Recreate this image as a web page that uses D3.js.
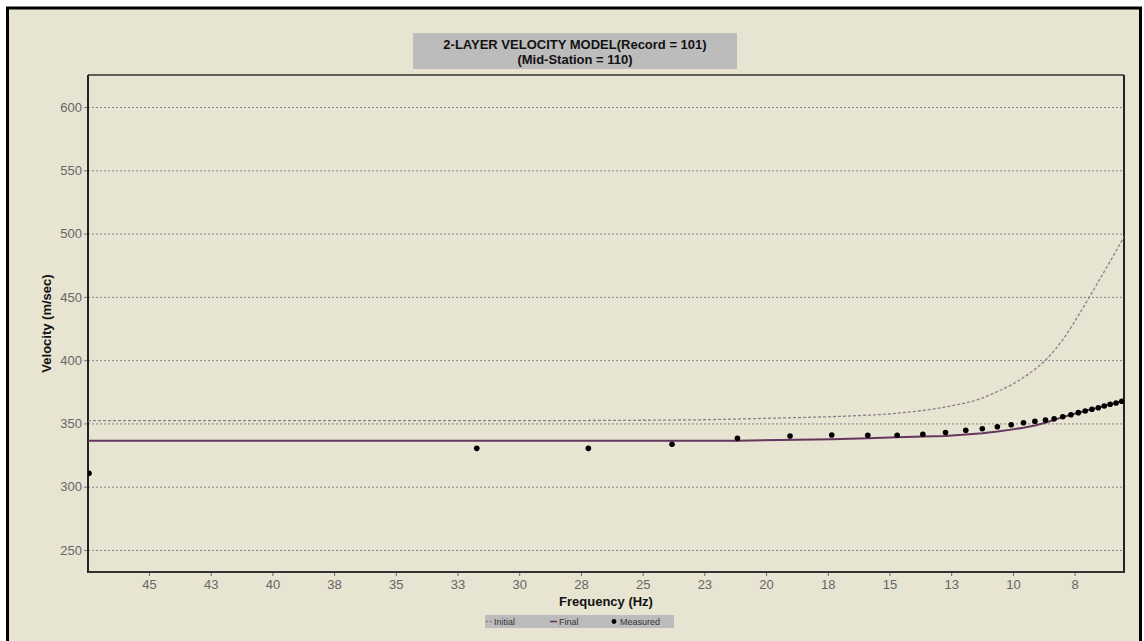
<!DOCTYPE html>
<html>
<head>
<meta charset="utf-8">
<script src="https://cdn.jsdelivr.net/npm/d3@7"></script>
<style>
  html, body { margin: 0; padding: 0; background: #ffffff; }
  svg { display: block; }
  text { font-family: "Liberation Sans", Arial, sans-serif; }
</style>
</head>
<body>
<svg id="chart" width="1144" height="641"></svg>
<script>
// ---------- data ----------
const titleLines = ["2-LAYER VELOCITY MODEL(Record = 101)", "(Mid-Station = 110)"];
const xLabel = "Frequency (Hz)";
const yLabel = "Velocity (m/sec)";

const xTickValues = [45, 42.5, 40, 37.5, 35, 32.5, 30, 27.5, 25, 22.5, 20, 17.5, 15, 12.5, 10, 7.5];
const xTickLabels = ["45", "43", "40", "38", "35", "33", "30", "28", "25", "23", "20", "18", "15", "13", "10", "8"];
const yTickValues = [250, 300, 350, 400, 450, 500, 550, 600];

const measuredFreq = [47.43, 31.72, 27.2, 23.81, 21.16, 19.03, 17.34, 15.88, 14.69, 13.65, 12.73, 11.91, 11.24, 10.63, 10.07, 9.57, 9.11, 8.68, 8.33, 7.98, 7.65, 7.35, 7.07, 6.80, 6.54, 6.30, 6.06, 5.82, 5.59];
const measuredVel  = [310.6, 330.3, 330.3, 333.5, 338.2, 340.1, 340.9, 340.6, 340.6, 341.4, 342.8, 344.6, 345.8, 347.4, 349.0, 350.5, 351.7, 352.7, 353.7, 355.3, 356.9, 358.5, 359.8, 361.2, 362.4, 363.8, 365.1, 366.1, 367.5];

const finalFreq = [47.47, 21.16, 17.34, 15.88, 14.69, 13.65, 12.73, 11.91, 11.24, 10.63, 10.07, 9.57, 9.11, 8.68, 8.33, 7.98, 7.65, 7.35, 7.07, 6.80, 6.54, 6.30, 6.06, 5.82, 5.5];
const finalVel  = [336.3, 336.3, 337.5, 338.3, 339.1, 339.6, 340.1, 341.2, 342.3, 343.6, 345.1, 346.6, 348.3, 350.5, 352.8, 355.0, 356.8, 358.4, 359.8, 361.2, 362.5, 363.8, 365.1, 366.2, 367.8];

const initialFreq = [47.47, 30.0, 23.48, 19.43, 16.73, 14.71, 12.68, 11.32, 10.65, 9.97, 9.30, 8.63, 7.95, 7.28, 6.60, 5.93, 5.5];
const initialVel  = [352.2, 352.2, 352.7, 354.3, 355.8, 358.0, 363.2, 369.5, 375.0, 381.5, 390.0, 401.0, 417.0, 437.5, 460.0, 482.5, 497.5];

const legendItems = ["Initial", "Final", "Measured"];

// ---------- layout ----------
const svg = d3.select("#chart");
const W = 1144, H = 641;
const plot = { left: 88, right: 1124, top: 75, bottom: 572 };

// outer frame
svg.append("rect").attr("x", 0).attr("y", 0).attr("width", W).attr("height", H).attr("fill", "#ffffff");
svg.append("rect").attr("x", 7.5).attr("y", 8).attr("width", 1133).attr("height", 700)
  .attr("fill", "#e7e4d2").attr("stroke", "#000").attr("stroke-width", 3);

const x = d3.scaleLinear().domain([47.47, 5.5]).range([plot.left, plot.right]);
const y = d3.scaleLinear().domain([232.6, 625.3]).range([plot.bottom, plot.top]);

// clip
svg.append("defs").append("clipPath").attr("id", "plotclip")
  .append("rect").attr("x", plot.left).attr("y", plot.top)
  .attr("width", plot.right - plot.left).attr("height", plot.bottom - plot.top);

// grid lines
const grid = svg.append("g").attr("transform", `translate(${plot.left},0)`)
  .call(d3.axisLeft(y).tickValues(yTickValues).tickSize(-(plot.right - plot.left)).tickFormat(""));
grid.select(".domain").remove();
grid.selectAll("line").attr("stroke", "#858585").attr("stroke-width", 1).attr("stroke-dasharray", "2,2");

// y axis ticks + labels
const yAx = svg.append("g").attr("transform", `translate(${plot.left},0)`)
  .call(d3.axisLeft(y).tickValues(yTickValues).tickSize(4).tickPadding(2));
yAx.select(".domain").remove();
yAx.selectAll("line").attr("stroke", "#777");
yAx.selectAll("text").attr("fill", "#666").attr("font-size", 13)
  .attr("font-family", "'Liberation Sans', Arial, sans-serif");

// x axis
const xAx = svg.append("g").attr("transform", `translate(0,${plot.bottom})`)
  .call(d3.axisBottom(x).tickValues(xTickValues)
    .tickFormat((d, i) => xTickLabels[i]).tickSize(4).tickPadding(4));
xAx.select(".domain").remove();
xAx.selectAll("line").attr("stroke", "#666");
xAx.selectAll("text").attr("fill", "#666").attr("font-size", 13)
  .attr("font-family", "'Liberation Sans', Arial, sans-serif");

// plot border
svg.append("line").attr("x1", plot.left).attr("x2", plot.right).attr("y1", plot.top).attr("y2", plot.top)
  .attr("stroke", "#333").attr("stroke-width", 1.5);
svg.append("line").attr("x1", plot.right).attr("x2", plot.right).attr("y1", plot.top).attr("y2", plot.bottom)
  .attr("stroke", "#222").attr("stroke-width", 2);
svg.append("line").attr("x1", plot.left).attr("x2", plot.left).attr("y1", plot.top).attr("y2", plot.bottom + 1)
  .attr("stroke", "#222").attr("stroke-width", 2);
svg.append("line").attr("x1", plot.left).attr("x2", plot.right + 1).attr("y1", plot.bottom).attr("y2", plot.bottom)
  .attr("stroke", "#333").attr("stroke-width", 2);

const g = svg.append("g").attr("clip-path", "url(#plotclip)");

// initial (dashed)
const initialData = initialFreq.map((f, i) => ({ f, v: initialVel[i] }));
g.append("path").datum(initialData)
  .attr("fill", "none").attr("stroke", "#8a7f88").attr("stroke-width", 1.3)
  .attr("stroke-dasharray", "3,2")
  .attr("d", d3.line().x(d => x(d.f)).y(d => y(d.v)).curve(d3.curveMonotoneX));

// final (solid purple)
const finalData = finalFreq.map((f, i) => ({ f, v: finalVel[i] }));
g.append("path").datum(finalData)
  .attr("fill", "none").attr("stroke", "#66365f").attr("stroke-width", 2)
  .attr("d", d3.line().x(d => x(d.f)).y(d => y(d.v)));

// measured points
const measuredData = measuredFreq.map((f, i) => ({ f, v: measuredVel[i] }));
g.selectAll("circle.m").data(measuredData).enter().append("circle")
  .attr("class", "m").attr("cx", d => x(d.f)).attr("cy", d => y(d.v))
  .attr("r", 2.8).attr("fill", "#000");

// title box
svg.append("rect").attr("x", 413).attr("y", 33).attr("width", 324).attr("height", 36)
  .attr("fill", "#bcbcbc");
svg.append("text").attr("x", 575).attr("y", 49).attr("text-anchor", "middle")
  .attr("font-size", 13).attr("font-weight", "bold").attr("fill", "#111").text(titleLines[0]);
svg.append("text").attr("x", 575).attr("y", 64).attr("text-anchor", "middle")
  .attr("font-size", 13).attr("font-weight", "bold").attr("fill", "#111").text(titleLines[1]);

// axis titles
svg.append("text").attr("x", (plot.left + plot.right) / 2).attr("y", 606).attr("text-anchor", "middle")
  .attr("font-size", 13).attr("font-weight", "bold").attr("fill", "#111").text(xLabel);
svg.append("text").attr("transform", `translate(51,${(plot.top + plot.bottom) / 2}) rotate(-90)`)
  .attr("text-anchor", "middle").attr("font-size", 13).attr("font-weight", "bold").attr("fill", "#111").text(yLabel);

// legend
const lg = svg.append("g");
lg.append("rect").attr("x", 485).attr("y", 615).attr("width", 189).attr("height", 13).attr("fill", "#bcbcbc");
// Initial
lg.append("line").attr("x1", 486).attr("x2", 492).attr("y1", 621.5).attr("y2", 621.5)
  .attr("stroke", "#7a6f78").attr("stroke-width", 1.2).attr("stroke-dasharray", "2,1.5");
lg.append("text").attr("x", 494).attr("y", 624.5).attr("font-size", 9).attr("fill", "#333").text(legendItems[0]);
// Final
lg.append("line").attr("x1", 550).attr("x2", 557).attr("y1", 621.5).attr("y2", 621.5)
  .attr("stroke", "#66365f").attr("stroke-width", 1.6);
lg.append("text").attr("x", 559).attr("y", 624.5).attr("font-size", 9).attr("fill", "#333").text(legendItems[1]);
// Measured
lg.append("circle").attr("cx", 614).attr("cy", 621.5).attr("r", 2.4).attr("fill", "#000");
lg.append("text").attr("x", 620).attr("y", 624.5).attr("font-size", 9).attr("fill", "#333").text(legendItems[2]);
</script>
</body>
</html>
